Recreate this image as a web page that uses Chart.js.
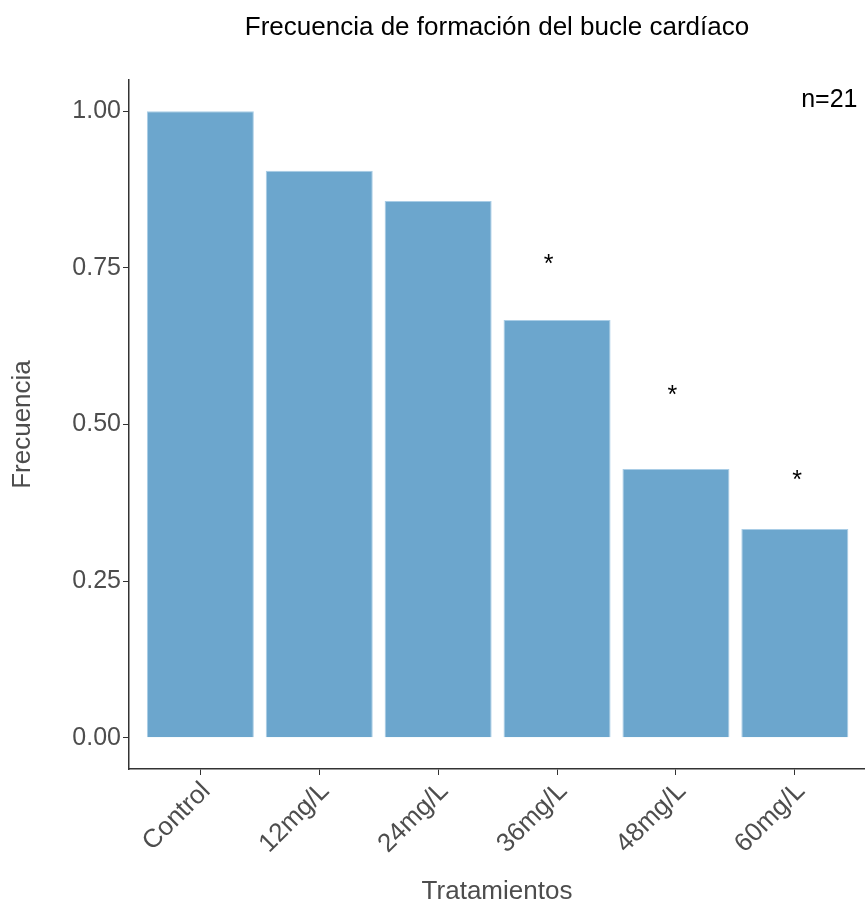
<!DOCTYPE html>
<html>
<head>
<meta charset="utf-8">
<script src="https://cdn.jsdelivr.net/npm/chart.js@4"></script>
<style>
  html, body { margin: 0; padding: 0; background: #ffffff; }
  #wrap { width: 865px; height: 903px; position: relative; }
</style>
</head>
<body>
<div id="wrap"><canvas id="chart"></canvas></div>
<script>
// Treatments and the share of embryos forming the cardiac loop (n = 21 per group)
const categories = ['Control', '12mg/L', '24mg/L', '36mg/L', '48mg/L', '60mg/L'];
const frequencies = [1.000, 0.905, 0.857, 0.667, 0.429, 0.333];

// Y axis ticks
const yTickValues = [0, 0.25, 0.5, 0.75, 1.0];
const yTickLabels = ['0.00', '0.25', '0.50', '0.75', '1.00'];

// Significance marks (x on the category index scale, y in frequency units)
const starX = [3.93, 4.97, 6.02];
const starY = [0.755, 0.545, 0.41];

// Sample size note
const noteText = 'n=21';
const noteX = 6.29;
const noteY = 1.018;

const FONT = "'Liberation Sans', Arial, Helvetica, sans-serif";
const GREY = '#4d4d4d';
const AXIS = '#333333';

const annotations = {
  id: 'annotations',
  afterDatasetsDraw(chart) {
    const { ctx, scales: { x, y } } = chart;
    ctx.save();
    ctx.fillStyle = '#000000';
    ctx.textAlign = 'center';
    ctx.textBaseline = 'middle';
    ctx.font = '25px ' + FONT;
    starX.forEach((sx, i) => {
      ctx.fillText('*', x.getPixelForValue(sx), y.getPixelForValue(starY[i]));
    });
    ctx.fillText(noteText, x.getPixelForValue(noteX), y.getPixelForValue(noteY));
    ctx.restore();
  }
};

new Chart(document.getElementById('chart'), {
  type: 'bar',
  data: {
    datasets: [{
      data: categories.map((c, i) => ({ x: i + 1, y: frequencies[i] })),
      backgroundColor: '#6CA6CD',
      borderColor: '#a9cde6',
      borderWidth: 1,
      barPercentage: 0.9,
      categoryPercentage: 1.0
    }]
  },
  options: {
    responsive: true,
    maintainAspectRatio: false,
    animation: false,
    layout: { padding: 0 },
    plugins: {
      legend: { display: false },
      tooltip: { enabled: false },
      title: {
        display: true,
        text: 'Frecuencia de formación del bucle cardíaco',
        color: '#000000',
        fullSize: false,
        font: { family: FONT, size: 26, weight: 'normal' },
        padding: { top: 12, bottom: 36.8 }
      }
    },
    scales: {
      x: {
        type: 'linear',
        min: 0.4,
        max: 6.59,
        offset: false,
        grid: { display: true, offset: false, drawOnChartArea: false, drawTicks: true, tickLength: 6, color: AXIS, lineWidth: 1 },
        border: { display: true, color: AXIS, width: 1.5 },
        afterBuildTicks(scale) {
          scale.ticks = categories.map((c, i) => ({ value: i + 1 }));
        },
        afterFit(scale) {
          scale.height = 134;
          scale.paddingLeft = 0;
          scale.paddingRight = 0;
        },
        ticks: {
          autoSkip: false,
          minRotation: 45,
          maxRotation: 45,
          padding: 1,
          labelOffset: 6,
          color: GREY,
          font: { family: FONT, size: 26 },
          callback: (v) => categories[v - 1]
        },
        title: {
          display: true,
          text: 'Tratamientos',
          color: GREY,
          font: { family: FONT, size: 26, lineHeight: 0.85 },
          padding: 0
        }
      },
      y: {
        min: -0.05,
        max: 1.05,
        grid: { display: true, offset: false, drawOnChartArea: false, drawTicks: true, tickLength: 6, color: AXIS, lineWidth: 1 },
        border: { display: true, color: AXIS, width: 1.5 },
        afterBuildTicks(scale) {
          scale.ticks = yTickValues.map(v => ({ value: v }));
        },
        afterFit(scale) {
          scale.width = 129;
        },
        ticks: {
          padding: 2,
          color: GREY,
          font: { family: FONT, size: 25 },
          callback: (v) => yTickLabels[yTickValues.indexOf(v)]
        },
        title: {
          display: true,
          text: 'Frecuencia',
          color: GREY,
          font: { family: FONT, size: 26, lineHeight: 1.2 },
          padding: { top: 7, bottom: 0 }
        }
      }
    }
  },
  plugins: [annotations]
});
</script>
</body>
</html>
